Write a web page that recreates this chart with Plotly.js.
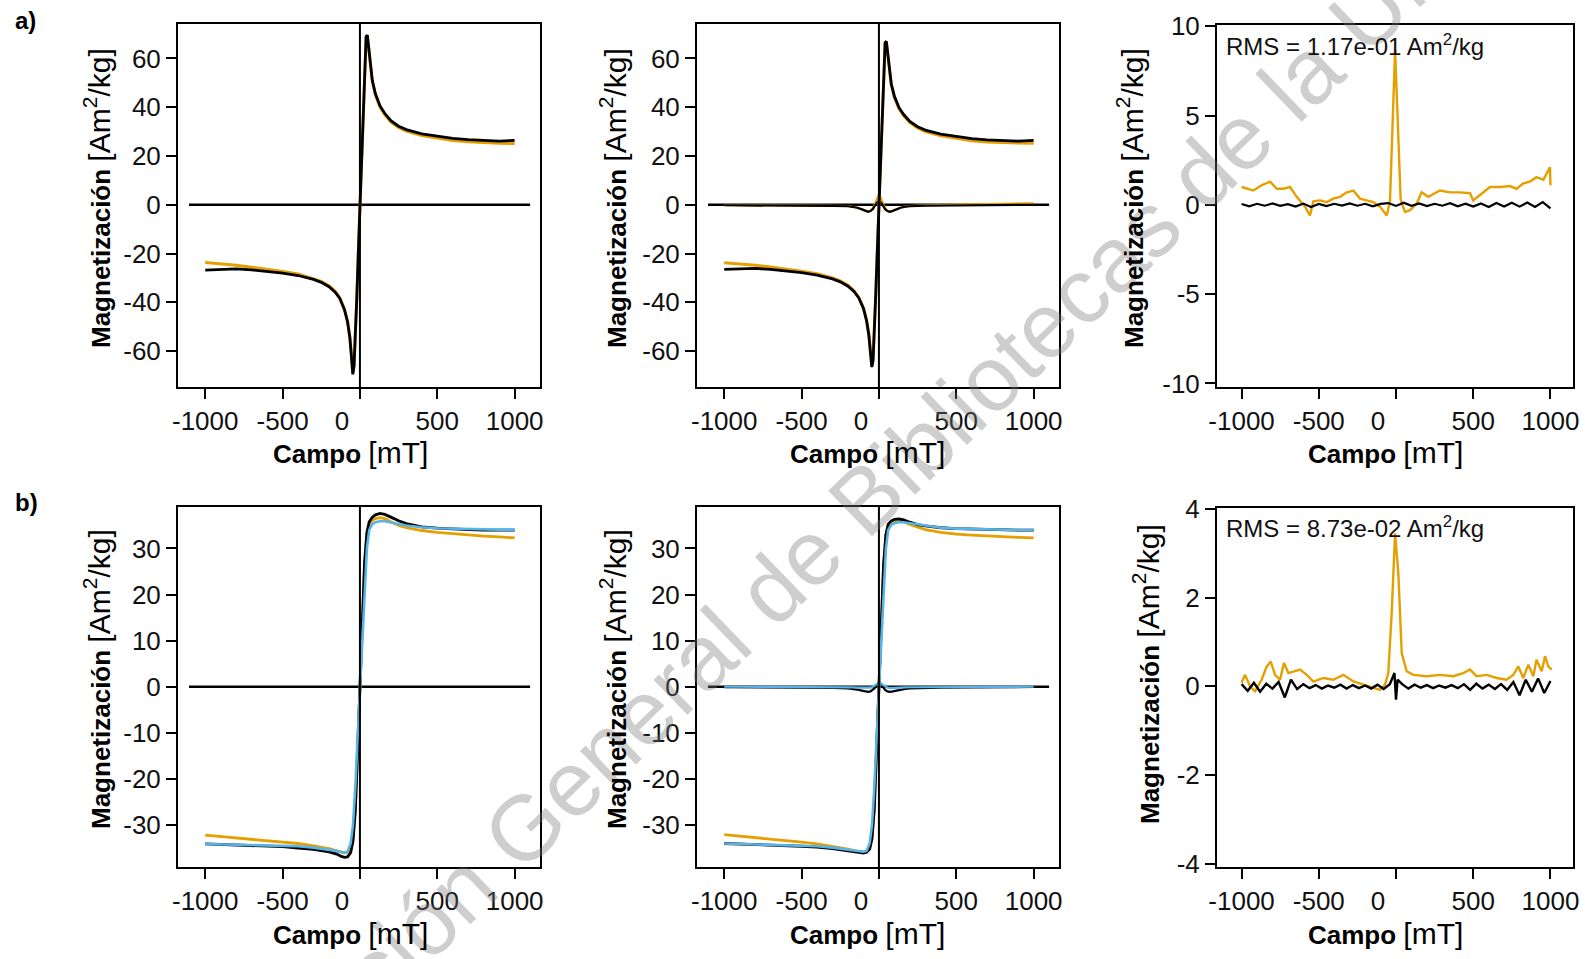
<!DOCTYPE html>
<html>
<head>
<meta charset="utf-8">
<script src="https://cdn.plot.ly/plotly-3.0.1.min.js"></script>
<style>html,body{margin:0;padding:0;background:#fff;}#chart{width:1585px;height:959px;}</style>
</head>
<body>
<div id="chart"></div>
<script>
// ---------------- DATA ----------------
const xTickVals = [-1000, -500, 0, 500, 1000];
const xTickText = ['-1000', '-500', '0\u00a0\u00a0\u00a0\u00a0\u00a0', '500', '1000'];
const yTicksA = [-60, -40, -20, 0, 20, 40, 60];
const yTextA = ['-60', '-40', '-20', '0', '20', '40', '60'];
const yTicksA3 = [-10, -5, 0, 5, 10];
const yTextA3 = ['-10', '-5', '0', '5', '10'];
const yTicksB = [-30, -20, -10, 0, 10, 20, 30];
const yTextB = ['-30', '-20', '-10', '0', '10', '20', '30'];
const yTicksB3 = [-4, -2, 0, 2, 4];
const yTextB3 = ['-4', '-2', '0', '2', '4'];

const zeroX = [-1105, 1100];
const zeroY = [0, 0];

// row a main curves
const xA = [-1000,-900,-800,-700,-600,-500,-400,-300,-250,-200,-160,-130,-100,-80,-65,-55,-46,-38,-30,-20,-10,0,10,20,30,40,48,56,66,80,100,130,160,200,250,300,400,500,600,700,800,900,1000];
const a1Black = [-26.8,-26.4,-26.3,-26.7,-27.3,-28.0,-29.0,-30.6,-31.8,-33.6,-35.8,-38.4,-43.0,-48.0,-54.5,-61.0,-69.5,-66.0,-56.0,-38.0,-19.0,0,19,38,57,69,69.5,65,58,51,45.5,40.5,37.5,34.5,32.2,30.8,29.1,28.0,27.2,26.7,26.3,26.1,26.4];
const a1Orange = [-23.7,-24.2,-24.8,-25.6,-26.4,-27.3,-28.4,-30.2,-31.4,-33.2,-35.5,-38.2,-42.8,-47.8,-54.3,-60.8,-69.0,-65.5,-55.5,-37.5,-18.8,0,19,38,57,68.5,69,64.5,57.5,50.5,45,40,37,34,31.7,30.2,28.4,27.2,26.3,25.8,25.4,25.2,25.1];
const a2Black = [-26.5,-26.2,-26.1,-26.5,-27.1,-27.8,-28.8,-30.4,-31.6,-33.4,-35.6,-38.2,-42.5,-47.5,-53.5,-59.5,-66.5,-64.0,-54.0,-36.0,-18.0,0,18,36,54,66.5,67,62.5,56,49.5,44.5,39.8,37,34.2,32,30.6,29,27.9,27.1,26.6,26.2,26.1,26.4];
const a2Orange = [-23.8,-24.2,-24.8,-25.5,-26.3,-27.2,-28.3,-30.0,-31.2,-33.0,-35.3,-38.0,-42.3,-47.3,-53.3,-59.3,-66.0,-63.5,-53.5,-35.7,-17.8,0,18,36,54,66,66.5,62,55.5,49,44,39.3,36.5,33.7,31.5,30.0,28.3,27.1,26.2,25.7,25.4,25.3,25.2];

// near-zero components (middle column)
const xR = [-1000,-800,-600,-400,-300,-200,-170,-140,-110,-90,-70,-55,-40,-28,-18,-8,0,8,18,28,40,55,70,90,110,140,170,200,300,400,600,800,1000];
const a2BlackRes = [-0.2,-0.2,-0.3,-0.4,-0.5,-0.6,-0.8,-1.2,-1.9,-2.5,-2.9,-2.6,-1.8,-0.6,0.5,1.2,1.4,1.2,0.5,-0.6,-1.8,-2.6,-2.9,-2.5,-1.9,-1.2,-0.8,-0.6,-0.4,-0.3,-0.2,-0.1,0.0];
const a2OrangeRes = [-0.1,-0.1,-0.2,-0.3,-0.4,-0.5,-0.7,-1.1,-1.8,-2.4,-2.8,-2.4,-1.5,0.0,1.8,3.5,4.2,3.3,1.6,-0.2,-1.6,-2.5,-2.8,-2.4,-1.8,-1.1,-0.7,-0.5,-0.2,0.0,0.2,0.4,0.6];
const b2BlackRes = [-0.1,-0.1,-0.15,-0.2,-0.25,-0.35,-0.45,-0.6,-0.85,-1.0,-1.1,-1.0,-0.7,-0.3,0.3,0.8,1.0,0.8,0.3,-0.3,-0.7,-1.0,-1.1,-1.0,-0.85,-0.6,-0.45,-0.35,-0.25,-0.2,-0.15,-0.1,-0.05];
const b2BlueRes = [0,0,-0.05,-0.05,-0.1,-0.1,-0.15,-0.2,-0.25,-0.3,-0.3,-0.2,0,0.3,0.6,0.8,0.9,0.8,0.6,0.3,0,-0.2,-0.3,-0.3,-0.25,-0.2,-0.15,-0.1,-0.1,-0.05,-0.05,0,0];

// row b main curves
const xB = [-1000,-900,-800,-700,-600,-500,-400,-300,-200,-150,-120,-100,-80,-60,-45,-30,-15,0,15,30,45,60,80,100,130,160,200,250,300,400,500,600,700,800,900,1000];
const b1Black = [-34.1,-34.2,-34.3,-34.4,-34.5,-34.7,-35.0,-35.3,-35.8,-36.3,-36.8,-37.0,-36.9,-36.0,-33.5,-27,-14,0,14,27,33.5,35.8,36.8,37.3,37.6,37.4,36.8,36.0,35.4,34.7,34.4,34.2,34.1,34.0,34.0,34.0];
const b1Orange = [-32.2,-32.5,-32.9,-33.2,-33.4,-33.7,-34.0,-34.5,-35.1,-35.6,-35.9,-36.0,-35.9,-35.2,-33.0,-26.5,-13.5,0,13.5,26.5,33,35.2,36.1,36.5,36.7,36.5,35.8,35.0,34.5,33.9,33.5,33.2,32.9,32.7,32.5,32.3];
const b1Blue = [-34.1,-34.2,-34.3,-34.3,-34.4,-34.5,-34.6,-34.9,-35.3,-35.6,-35.9,-36.0,-35.8,-34.0,-30.0,-22,-11,0,11,22,30,34.0,35.3,35.7,35.9,35.9,35.7,35.3,35.0,34.6,34.4,34.3,34.2,34.1,34.1,34.1];
const b2Black = [-34.0,-34.1,-34.2,-34.3,-34.4,-34.6,-34.8,-35.1,-35.6,-35.9,-36.1,-36.1,-35.9,-35.2,-33.0,-26.5,-13.5,0,13.5,26.5,33,35.3,36.0,36.3,36.4,36.2,35.7,35.2,34.9,34.5,34.3,34.2,34.1,34.0,34.0,34.0];
const b2Orange = [-32.1,-32.4,-32.8,-33.1,-33.4,-33.7,-34.1,-34.6,-35.2,-35.6,-35.8,-35.9,-35.8,-35.0,-32.8,-26.3,-13.3,0,13.3,26.3,32.8,35.0,35.7,35.9,36.0,35.8,35.2,34.6,34.1,33.5,33.1,32.9,32.7,32.5,32.4,32.3];
const b2Blue = [-34.0,-34.1,-34.2,-34.3,-34.4,-34.5,-34.6,-34.9,-35.3,-35.5,-35.7,-35.8,-35.6,-34.0,-30.0,-22,-11,0,11,22,30,34.0,35.1,35.5,35.7,35.7,35.5,35.1,34.9,34.5,34.3,34.2,34.1,34.1,34.0,34.0];

// right column: residuals
const a3X = [-1000,-967,-923,-870,-815,-772,-729,-686,-643,-589,-557,-535,-492,-449,-406,-362,-319,-276,-233,-190,-147,-104,-60,-39,-22,-6,12,30,58,91,134,166,209,242,285,350,414,479,500,544,608,673,738,781,824,867,910,954,975,997,1000];
const a3Orange = [1.0,0.9,0.8,1.1,1.3,0.9,0.9,1.0,0.45,-0.1,-0.6,0.2,0.25,0.15,0.35,0.45,0.7,0.8,0.35,0.25,0.15,-0.1,-0.6,0.2,4.5,8.65,4.5,0.3,-0.4,-0.3,0.07,0.7,0.45,0.6,0.8,0.7,0.7,0.65,0.25,0.55,1.0,1.0,1.05,0.9,1.2,1.3,1.55,1.4,1.75,2.1,1.1];
const a3BX = [-1000,-950,-900,-850,-800,-750,-700,-650,-600,-550,-500,-450,-400,-350,-300,-250,-200,-150,-100,-50,0,50,100,150,200,250,300,350,400,450,500,550,600,650,700,750,800,850,900,950,1000];
const a3Black = [0.05,-0.08,0.06,-0.05,0.08,-0.06,0.04,-0.1,0.07,-0.12,0.05,-0.07,0.06,-0.04,0.08,-0.05,0.06,-0.08,0.05,0.1,-0.06,0.12,-0.05,0.08,-0.07,0.06,-0.05,0.09,-0.08,0.06,-0.1,0.08,-0.12,0.1,-0.09,0.12,-0.1,0.13,-0.12,0.15,-0.2];
const b3X = [-1000,-977,-945,-913,-870,-837,-811,-783,-751,-725,-697,-665,-621,-578,-535,-470,-406,-341,-276,-211,-147,-104,-71,-50,-28,-6,15,37,69,112,198,285,371,436,479,522,587,652,716,759,792,824,857,889,910,943,965,986,1008];
const b3Orange = [0.08,0.26,0,-0.11,0.15,0.45,0.56,0.26,0.15,0.53,0.3,0.34,0.38,0.26,0.11,0.19,0.15,0.26,0.11,0.04,-0.04,-0.08,0.04,0.3,1.65,3.45,2.56,0.75,0.34,0.26,0.23,0.26,0.23,0.3,0.38,0.23,0.26,0.19,0.15,0.26,0.45,0.19,0.49,0.23,0.6,0.34,0.68,0.45,0.38];
const b3BX = [-1000,-960,-920,-880,-840,-800,-760,-720,-680,-640,-600,-560,-520,-480,-440,-400,-360,-320,-280,-240,-200,-160,-120,-80,-40,-10,0,10,40,80,120,160,200,240,280,320,360,400,440,480,520,560,600,640,680,720,760,800,840,880,920,960,1000];
const b3Black = [0.05,-0.1,0.08,-0.12,0.06,-0.05,0.1,-0.25,0.15,-0.06,0.05,-0.04,0.03,-0.05,0.02,-0.03,0.04,-0.05,0.03,-0.04,0.02,-0.05,0.04,-0.06,0.05,0.3,-0.3,0.15,0.05,-0.05,0.04,-0.03,0.03,-0.04,0.02,-0.03,0.03,-0.04,0.05,-0.08,0.06,-0.05,0.04,-0.06,0.05,-0.08,0.1,-0.2,0.15,-0.12,0.18,-0.15,0.12];

const rmsA = 'RMS = 1.17e-01 Am<sup>2</sup>/kg';
const rmsB = 'RMS = 8.73e-02 Am<sup>2</sup>/kg';
const yTitle = '<b>Magnetización</b> <span style="font-size:30px">[Am<sup>2</sup>/kg]</span>';
const xTitle = '<b>Campo</b> <span style="font-size:30px">[mT]</span>';
const watermark = 'Dirección General de Bibliotecas de la UNAM';

// ---------------- STYLE / LAYOUT ----------------
const W = 1585, H = 959;
const FONT = 'Liberation Sans, Arial, Helvetica, sans-serif';
const BLACK = '#000000', ORANGE = '#E69F00', BLUE = '#56B4E9';
const TICKSIZE = 26;

function line(x, y, color, xa, ya, w) {
  return {x: x, y: y, type: 'scatter', mode: 'lines', xaxis: xa, yaxis: ya,
          line: {color: color, width: w || 2.5}, hoverinfo: 'skip', showlegend: false};
}

const traces = [
  // a1
  line(zeroX, zeroY, BLACK, 'x', 'y', 2.5),
  line(xA, a1Orange, ORANGE, 'x', 'y', 3),
  line(xA, a1Black, BLACK, 'x', 'y', 2.8),
  // a2
  line(zeroX, zeroY, BLACK, 'x2', 'y2', 2.5),
  line(xR, a2OrangeRes, ORANGE, 'x2', 'y2', 2.2),
  line(xR, a2BlackRes, BLACK, 'x2', 'y2', 2.2),
  line(xA, a2Orange, ORANGE, 'x2', 'y2', 3),
  line(xA, a2Black, BLACK, 'x2', 'y2', 2.8),
  // a3
  line(a3X, a3Orange, ORANGE, 'x3', 'y3', 2.4),
  line(a3BX, a3Black, BLACK, 'x3', 'y3', 2.2),
  // b1
  line(zeroX, zeroY, BLACK, 'x4', 'y4', 2.5),
  line(xB, b1Orange, ORANGE, 'x4', 'y4', 2.8),
  line(xB, b1Black, BLACK, 'x4', 'y4', 2.8),
  line(xB, b1Blue, BLUE, 'x4', 'y4', 2.6),
  // b2
  line(zeroX, zeroY, BLACK, 'x5', 'y5', 2.5),
  line(xR, b2BlackRes, BLACK, 'x5', 'y5', 2.2),
  line(xR, b2BlueRes, BLUE, 'x5', 'y5', 2.2),
  line(xB, b2Orange, ORANGE, 'x5', 'y5', 2.8),
  line(xB, b2Black, BLACK, 'x5', 'y5', 2.8),
  line(xB, b2Blue, BLUE, 'x5', 'y5', 2.6),
  // b3
  line(b3X, b3Orange, ORANGE, 'x6', 'y6', 2.4),
  line(b3BX, b3Black, BLACK, 'x6', 'y6', 2.4)
];

function xAxis(l, r, range, anchor) {
  return {domain: [l / W, r / W], range: range, anchor: anchor, tickvals: xTickVals, ticktext: xTickText,
          showline: true, mirror: true, linecolor: '#000', linewidth: 2, ticks: 'outside', ticklen: 10,
          tickwidth: 2, tickcolor: '#000', showgrid: false, zeroline: false, fixedrange: true,
          tickfont: {family: FONT, size: TICKSIZE, color: '#111'}};
}
function yAxis(t, b, range, ticks, text, anchor) {
  return {domain: [1 - b / H, 1 - t / H], range: range, anchor: anchor, tickvals: ticks, ticktext: text,
          showline: true, mirror: true, linecolor: '#000', linewidth: 2, ticks: 'outside', ticklen: 10,
          tickwidth: 2, tickcolor: '#000', showgrid: false, zeroline: false, fixedrange: true,
          tickfont: {family: FONT, size: TICKSIZE, color: '#111'}};
}

function ann(text, px, py, opts) {
  return Object.assign({text: text, x: px / W, y: 1 - py / H, xref: 'paper', yref: 'paper',
    showarrow: false, xanchor: 'center', yanchor: 'middle',
    font: {family: FONT, size: 26, color: '#000'}}, opts || {});
}

const annotations = [
  ann(watermark, 872, 492, {textangle: -44, font: {family: FONT, size: 92, color: 'rgba(120,120,120,0.36)'}}),
  ann('<b>a)</b>', 13, 21, {xanchor: 'left', font: {family: FONT, size: 24, color: '#000'}}),
  ann('<b>b)</b>', 13, 502, {xanchor: 'left', font: {family: FONT, size: 24, color: '#000'}}),
  ann(yTitle, 97, 198, {textangle: -90}),
  ann(yTitle, 613, 198, {textangle: -90}),
  ann(yTitle, 1130, 198, {textangle: -90}),
  ann(yTitle, 97, 679, {textangle: -90}),
  ann(yTitle, 613, 679, {textangle: -90}),
  ann(yTitle, 1146, 674, {textangle: -90}),
  ann(xTitle, 350, 452),
  ann(xTitle, 868, 452),
  ann(xTitle, 1385, 452),
  ann(xTitle, 350, 933),
  ann(xTitle, 868, 933),
  ann(xTitle, 1385, 933),
  ann(rmsA, 1224, 45, {xanchor: 'left', font: {family: FONT, size: 24, color: '#111'}}),
  ann(rmsB, 1224, 527, {xanchor: 'left', font: {family: FONT, size: 24, color: '#111'}})
];

function vline(xa) {
  return {type: 'line', xref: xa, yref: xa.replace('x', 'y') + ' domain', x0: 0, x1: 0, y0: 0, y1: 1,
          line: {color: '#000', width: 2}, layer: 'above'};
}

const layout = {
  width: W, height: H,
  margin: {l: 0, r: 0, t: 0, b: 0},
  paper_bgcolor: '#fff', plot_bgcolor: '#fff',
  showlegend: false, hovermode: false,
  xaxis: xAxis(178, 540, [-1176, 1164], 'y'),
  yaxis: yAxis(24, 387, [-74.7, 74.1], yTicksA, yTextA, 'x'),
  xaxis2: xAxis(697, 1059, [-1176, 1164], 'y2'),
  yaxis2: yAxis(24, 387, [-74.7, 74.1], yTicksA, yTextA, 'x2'),
  xaxis3: xAxis(1217, 1573, [-1159, 1146], 'y3'),
  yaxis3: yAxis(25, 387, [-10.2, 10.07], yTicksA3, yTextA3, 'x3'),
  xaxis4: xAxis(178, 540, [-1176, 1164], 'y4'),
  yaxis4: yAxis(507, 867, [-39.1, 39.0], yTicksB, yTextB, 'x4'),
  xaxis5: xAxis(697, 1059, [-1176, 1164], 'y5'),
  yaxis5: yAxis(507, 867, [-39.1, 39.0], yTicksB, yTextB, 'x5'),
  xaxis6: xAxis(1217, 1573, [-1159, 1146], 'y6'),
  yaxis6: yAxis(508, 867, [-4.07, 4.02], yTicksB3, yTextB3, 'x6'),
  shapes: [vline('x'), vline('x2'), vline('x4'), vline('x5')],
  annotations: annotations
};

Plotly.newPlot('chart', traces, layout, {staticPlot: true, displayModeBar: false});
</script>
</body>
</html>
